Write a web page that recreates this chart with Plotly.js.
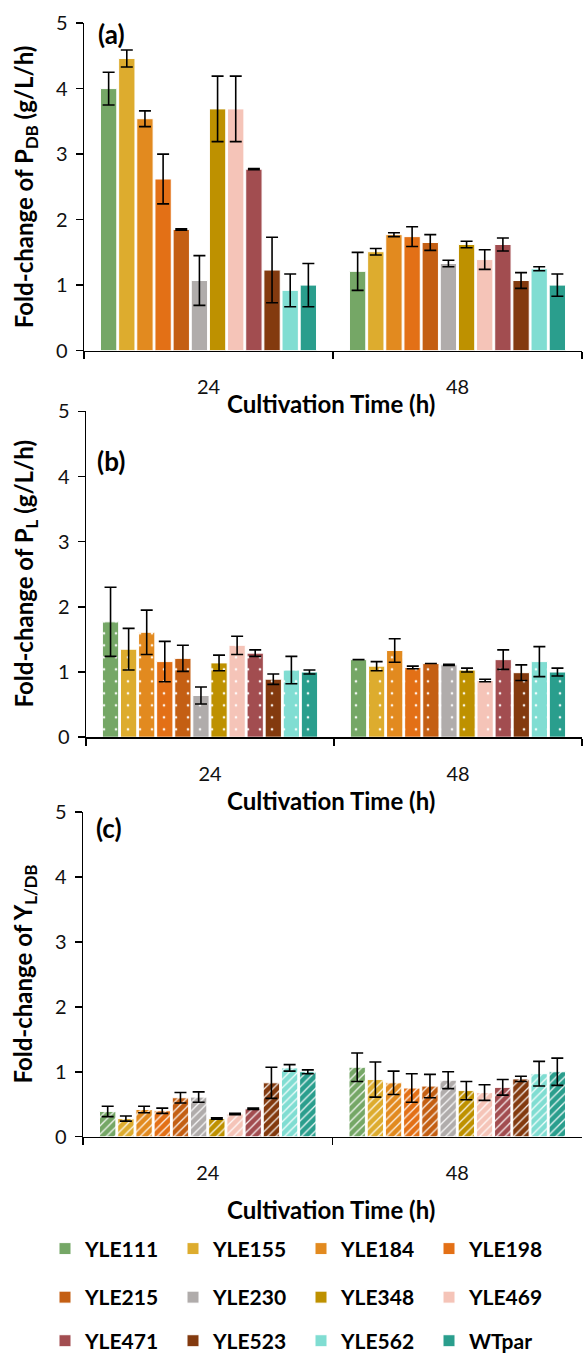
<!DOCTYPE html>
<html><head><meta charset="utf-8">
<script src="https://cdn.plot.ly/plotly-3.0.1.min.js"></script>
<style>html,body{margin:0;padding:0;background:#fff}</style>
</head><body><div id="chart" style="width:583px;height:1362px"></div>
<script>
const times = ["24", "48"];
const strains = ["YLE111","YLE155","YLE184","YLE198","YLE215","YLE230","YLE348","YLE469","YLE471","YLE523","YLE562","WTpar"];
const colors = ["#75A766","#DDAC2E","#E28A1F","#E37016","#C45F13","#B0ACAB","#BE9100","#F5C4B8","#A24D50","#833A0F","#80DDD2","#2A9E8D"];

// (a) Fold-change of P_DB
const pdbValues24 = [4.00,4.46,3.54,2.62,1.85,1.07,3.69,3.69,2.77,1.23,0.92,1.00];
const pdbErrors24 = [0.25,0.13,0.12,0.38,0.01,0.38,0.50,0.50,0.01,0.50,0.25,0.33];
const pdbValues48 = [1.21,1.51,1.77,1.74,1.65,1.33,1.62,1.39,1.62,1.07,1.25,1.00];
const pdbErrors48 = [0.29,0.05,0.03,0.15,0.12,0.05,0.05,0.15,0.10,0.12,0.03,0.17];

// (b) Fold-change of P_L
const plValues24 = [1.77,1.35,1.61,1.16,1.21,0.64,1.14,1.41,1.29,0.89,1.03,1.00];
const plErrors24 = [0.53,0.32,0.34,0.31,0.20,0.13,0.12,0.14,0.05,0.08,0.21,0.03];
const plValues48 = [1.19,1.09,1.33,1.07,1.13,1.11,1.03,0.87,1.19,0.99,1.16,1.00];
const plErrors48 = [0.00,0.07,0.18,0.02,0.00,0.01,0.03,0.02,0.15,0.12,0.23,0.06];

// (c) Fold-change of Y_L/DB
const yldbValues24 = [0.39,0.28,0.42,0.40,0.60,0.61,0.28,0.35,0.43,0.83,1.06,1.00];
const yldbErrors24 = [0.08,0.04,0.05,0.04,0.08,0.08,0.01,0.01,0.01,0.24,0.05,0.03];
const yldbValues48 = [1.07,0.88,0.83,0.75,0.78,0.87,0.71,0.68,0.76,0.89,0.97,1.00];
const yldbErrors48 = [0.22,0.27,0.18,0.22,0.18,0.13,0.14,0.12,0.12,0.04,0.19,0.21];

const panels = [
  {v24: pdbValues24, e24: pdbErrors24, v48: pdbValues48, e48: pdbErrors48, pattern: null},
  {v24: plValues24, e24: plErrors24, v48: plValues48, e48: plErrors48, pattern: {shape: ".", size: 12, solidity: 0.04}},
  {v24: yldbValues24, e24: yldbErrors24, v48: yldbValues48, e48: yldbErrors48, pattern: {shape: "/", size: 6, solidity: 0.22}}
];

const FONT = "Lato, 'Open Sans', sans-serif";
const W = 583, H = 1362;
const px = v => v / W;
const py = v => 1 - v / H;

const traces = [];
panels.forEach((p, k) => {
  const ax = k === 0 ? "" : String(k + 1);
  strains.forEach((s, i) => {
    const marker = {color: colors[i], line: {color: "white", width: 1}};
    if (p.pattern) {
      marker.pattern = Object.assign({fillmode: "overlay", fgcolor: "white", fgopacity: 0.9}, p.pattern);
    }
    const legendName = i < 4 ? "legend" : (i < 8 ? "legend2" : "legend3");
    traces.push({
      type: "bar", name: s, x: times, y: [p.v24[i], p.v48[i]],
      error_y: {type: "data", array: [p.e24[i], p.e48[i]], visible: true, color: "black", thickness: 1.6, width: 6},
      marker: marker,
      xaxis: "x" + ax, yaxis: "y" + ax,
      showlegend: k === 0, legend: legendName,
      hoverinfo: "x+y+name"
    });
  });
});

function xa(domain, anchor) {
  return {domain: domain, anchor: anchor, type: "category", showline: true, linecolor: "black", linewidth: 1.5,
    ticks: "outside", tickson: "boundaries", ticklen: 7, tickwidth: 1.5, tickcolor: "black",
    ticklabelstandoff: 18, tickfont: {family: FONT, size: 20, color: "#111"}, showgrid: false, zeroline: false, fixedrange: true};
}
function ya(domain, anchor) {
  return {domain: domain, anchor: anchor, range: [0, 5], dtick: 1, showline: true, linecolor: "black", linewidth: 1.5,
    ticks: "outside", ticklen: 7, tickwidth: 1.5, tickcolor: "black", ticklabelstandoff: 4,
    tickfont: {family: FONT, size: 20, color: "#111"}, showgrid: false, zeroline: false, fixedrange: true};
}

const legendBase = {orientation: "h", xanchor: "left", yanchor: "middle", entrywidth: 83, entrywidthmode: "pixels",
  font: {family: FONT, size: 21, color: "black", weight: "bold"}, bgcolor: "rgba(0,0,0,0)", traceorder: "normal", itemclick: false, itemdoubleclick: false};

const annFont = {family: FONT, size: 24, color: "black", weight: "bold"};
const annotations = [
  {text: "(a)", x: px(111), y: py(34)},
  {text: "(b)", x: px(111), y: py(465)},
  {text: "(c)", x: px(109), y: py(836)},
].map(a => Object.assign({xref: "paper", yref: "paper", showarrow: false, xanchor: "center", yanchor: "middle",
  font: {family: FONT, size: 26, color: "black", weight: "bold"}}, a));

[["Cultivation Time (h)", 331, 407], ["Cultivation Time (h)", 331, 808], ["Cultivation Time (h)", 331, 1221]].forEach(t => {
  annotations.push({text: t[0], x: px(t[1]), y: py(t[2]), xref: "paper", yref: "paper", showarrow: false,
    xanchor: "center", yanchor: "middle", font: annFont});
});
[["Fold-change of P<sub>DB</sub> (g/L/h)", 189], ["Fold-change of P<sub>L</sub> (g/L/h)", 580], ["Fold-change of Y<sub>L/DB</sub>", 984]].forEach(t => {
  annotations.push({text: t[0], x: px(25), y: py(t[1]), xref: "paper", yref: "paper", showarrow: false,
    textangle: -90, xanchor: "center", yanchor: "middle", font: {family: FONT, size: 24, color: "black", weight: "bold"}});
});

const layout = {
  width: W, height: H, margin: {l: 0, r: 0, t: 0, b: 0}, paper_bgcolor: "white", plot_bgcolor: "white",
  barmode: "group", bargap: 0.125, bargroupgap: 0.1,
  showlegend: true,
  xaxis: xa([px(84), px(582)], "y"),
  yaxis: ya([py(354), py(23.3)], "x"),
  xaxis2: xa([px(86), px(582)], "y2"),
  yaxis2: ya([py(744.3), py(415.3)], "x2"),
  xaxis3: xa([px(83), px(582)], "y3"),
  yaxis3: ya([py(1147.7), py(819.7)], "x3"),
  legend: Object.assign({}, legendBase, {x: px(45), y: py(1261)}),
  legend2: Object.assign({}, legendBase, {x: px(45), y: py(1310)}),
  legend3: Object.assign({}, legendBase, {x: px(45), y: py(1354)}),
  annotations: annotations
};

Plotly.newPlot("chart", traces, layout, {displayModeBar: false, staticPlot: true});
</script></body></html>
